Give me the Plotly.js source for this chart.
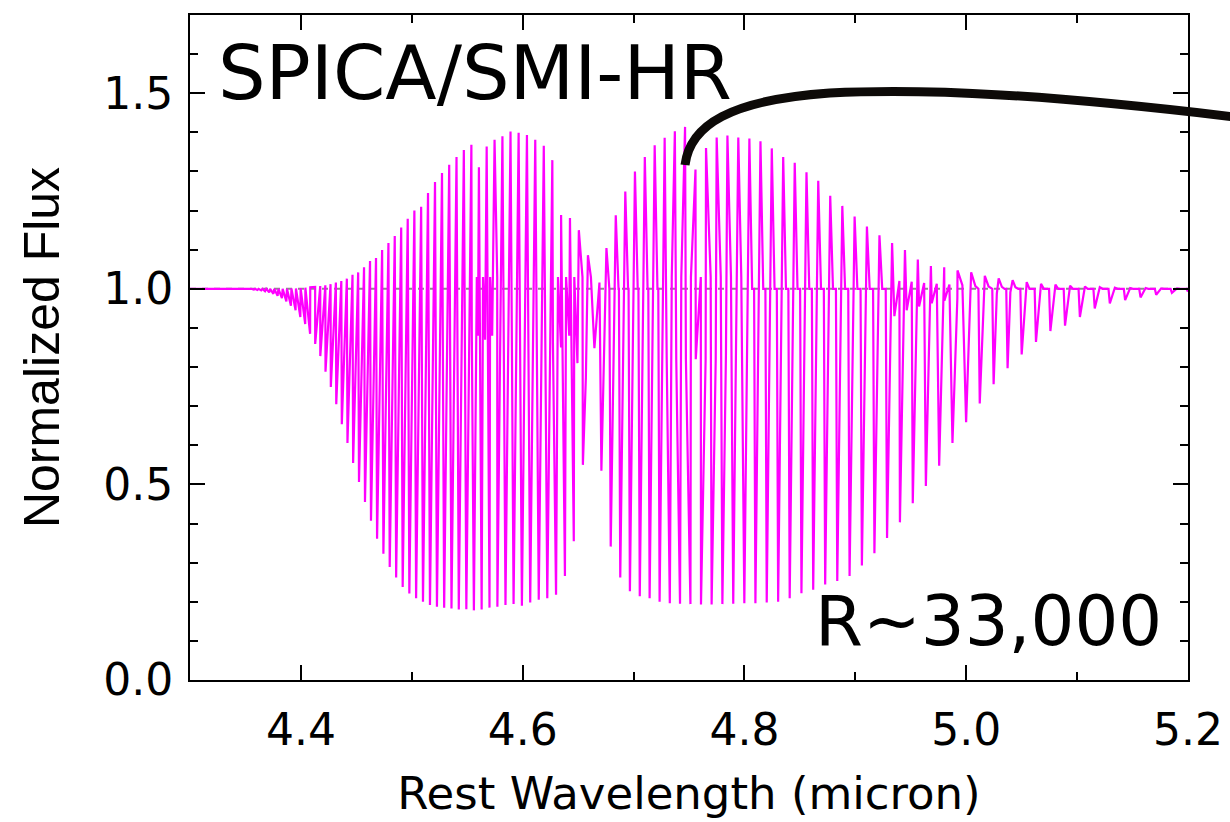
<!DOCTYPE html>
<html><head><meta charset="utf-8">
<script src="https://cdn.plot.ly/plotly-3.0.1.min.js"></script>
<style>html,body{margin:0;padding:0;background:#fff}#chart{width:1230px;height:822px}</style>
</head><body><div id="chart"></div>
<script>
// CO v=1-0 R-branch lines (R(0)...): rest wavelength (micron), emission peak, absorption minimum
const rWave = [4.6575,4.6493,4.6413,4.6333,4.6254,4.6177,4.6100,4.6025,4.5950,4.5877,4.5804,4.5733,4.5662,4.5592,4.5524,4.5456,4.5390,4.5324,4.5259,4.5196,4.5133,4.5071,4.5010,4.4950,4.4891,4.4833,4.4776,4.4719,4.4664,4.4610,4.4556,4.4503,4.4452,4.4401,4.4351,4.4302,4.4254,4.4207,4.4161,4.4115,4.4071,4.4027,4.3984,4.3942,4.3901,4.3861,4.3822,4.3784,4.3746,4.3709,4.3674,4.3639,4.3605,4.3572,4.3540];
const rPeak = [1.086,1.150,1.181,1.189,1.329,1.366,1.381,1.393,1.399,1.402,1.390,1.381,1.364,1.311,1.368,1.355,1.337,1.317,1.296,1.273,1.245,1.210,1.200,1.179,1.157,1.135,1.117,1.099,1.079,1.071,1.055,1.042,1.036,1.026,1.020,1.016,1.012,1.009,1.007,1.005,1.004,1.003,1.002,1.001,1.001,1.0,1.0,1.0,1.0,1.0,1.0,1.0,1.0,1.0,1.0];
const rDip = [0.550,0.355,0.266,0.218,0.209,0.205,0.198,0.190,0.194,0.192,0.187,0.185,0.180,0.178,0.181,0.180,0.183,0.185,0.187,0.192,0.200,0.209,0.221,0.238,0.262,0.289,0.323,0.361,0.407,0.455,0.506,0.555,0.606,0.654,0.705,0.749,0.788,0.828,0.859,0.885,0.910,0.928,0.945,0.957,0.968,0.976,0.982,0.987,0.991,0.994,0.996,0.997,0.998,0.999,0.999];

// CO v=1-0 P-branch lines (P(1)...)
const pWave = [4.6742,4.6826,4.6912,4.6999,4.7088,4.7177,4.7267,4.7359,4.7451,4.7545,4.7640,4.7736,4.7833,4.7931,4.8031,4.8131,4.8233,4.8336,4.8440,4.8546,4.8652,4.8760,4.8869,4.8980,4.9091,4.9204,4.9318,4.9434,4.9550,4.9668,4.9788,4.9908,5.0031,5.0154,5.0279,5.0405,5.0532,5.0661,5.0791,5.0923,5.1057,5.1191,5.1327,5.1465,5.1604,5.1745,5.1887,5.2031];
const pPeak = [1.104,1.188,1.249,1.300,1.337,1.367,1.386,1.403,1.414,1.305,1.360,1.387,1.392,1.387,1.384,1.377,1.359,1.337,1.322,1.298,1.276,1.238,1.212,1.185,1.159,1.137,1.117,1.099,1.075,1.058,1.055,1.047,1.042,1.033,1.027,1.022,1.017,1.013,1.011,1.008,1.006,1.004,1.003,1.002,1.002,1.001,1.001,1.001];
const pDip = [0.535,0.341,0.262,0.227,0.214,0.209,0.200,0.196,0.195,0.194,0.193,0.193,0.194,0.195,0.196,0.196,0.198,0.200,0.209,0.222,0.231,0.244,0.253,0.266,0.293,0.324,0.363,0.403,0.452,0.496,0.548,0.606,0.659,0.707,0.756,0.797,0.832,0.864,0.892,0.906,0.928,0.950,0.963,0.971,0.978,0.985,0.990,0.993];

// weaker v=2-1 lines seen between the main lines
const hotWave = [4.5573,4.5629,4.5693,4.5757,4.6305,4.6378,4.6452,4.6526,4.6602,4.6679,4.7331,4.7417,4.7504,4.7593,4.7682,4.7773,4.7865,4.7958,4.9384,4.9495,4.9607,4.9721,4.9835,4.9952,5.0069,5.0188,5.0308,5.0430];
const hotPeak = [1.03,1.03,1.03,1.03,1.03,1.03,1.03,1.03,1.03,1.016,1.03,1.03,1.03,1.03,1.03,1.03,1.03,1.03,1.020,1.018,1.015,1.013,1.011,1.009,1.007,1.006,1.005,1.004];
const hotDip = [0.90,0.88,0.87,0.88,0.86,0.85,0.88,0.81,0.773,0.848,0.82,0.82,0.82,0.82,0.82,0.82,0.83,0.83,0.930,0.945,0.955,0.963,0.970,0.976,0.981,0.985,0.988,0.991];

const continuum = 1.0;
const xRange = [4.3, 5.2];
const yRange = [0, 1.7];
const xTickVals = [4.4, 4.6, 4.8, 5.0, 5.2];
const yTickVals = [0.0, 0.5, 1.0, 1.5];

// profile offsets (micron): absorption on the blue side, emission on the red side
const DIP_OFF = 0.0032, PEAK_OFF = 0.00135, W_IN = 0.0012, W_OUT = 0.0025;

const lines = [];
function addLines(w, p, d) { for (let i = 0; i < w.length; i++) lines.push({c: w[i], peak: p[i], dip: d[i]}); }
addLines(rWave, rPeak, rDip);
addLines(pWave, pPeak, pDip);
addLines(hotWave, hotPeak, hotDip);
lines.sort((a, b) => a.c - b.c);
const spans = lines.map(l => [l.c - DIP_OFF - W_IN, l.c + PEAK_OFF + W_OUT]);
const verts = [{x: xRange[0], y: continuum}];
lines.forEach((l, i) => {
  const inOther = x => spans.some((s, j) => j !== i && x > s[0] && x < s[1]);
  if (!inOther(spans[i][0])) verts.push({x: spans[i][0], y: continuum});
  verts.push({x: l.c - DIP_OFF, y: l.dip});
  verts.push({x: l.c + PEAK_OFF, y: l.peak});
  if (!inOther(spans[i][1])) verts.push({x: spans[i][1], y: continuum});
});
verts.push({x: xRange[1], y: continuum});
verts.sort((u, v) => u.x - v.x);

const FONT = 'DejaVu Sans, sans-serif';
const traces = [
  {x: xRange, y: [continuum, continuum], mode: 'lines', line: {color: '#8c8c8c', width: 2, dash: '6px,6px'}, hoverinfo: 'skip', showlegend: false},
  {x: verts.map(v => v.x), y: verts.map(v => v.y), mode: 'lines', line: {color: '#ff00ff', width: 2.2}, showlegend: false, name: 'Normalized Flux'}
];

const axisCommon = {
  ticks: 'inside', ticklen: 15, tickwidth: 2, tickcolor: '#000',
  showline: true, linewidth: 2, linecolor: '#000', mirror: 'ticks',
  showgrid: false, zeroline: false,
  tickfont: {family: FONT, size: 44, color: '#000'}
};

const layout = {
  width: 1230, height: 822,
  margin: {l: 190, r: 42, t: 15, b: 142},
  paper_bgcolor: '#fff', plot_bgcolor: '#fff',
  showlegend: false,
  xaxis: Object.assign({}, axisCommon, {
    range: xRange, tickmode: 'array', tickvals: xTickVals, ticktext: xTickVals.map(v => v.toFixed(1)),
    minor: {dtick: 0.1, tick0: 4.3, ticks: 'inside', ticklen: 8, tickwidth: 2, tickcolor: '#000', showgrid: false},
    ticklabelstandoff: 10,
    title: {text: 'Rest Wavelength (micron)', font: {family: FONT, size: 45, color: '#000'}, standoff: 24}
  }),
  yaxis: Object.assign({}, axisCommon, {
    range: yRange, tickmode: 'array', tickvals: yTickVals, ticktext: yTickVals.map(v => v.toFixed(1)),
    minor: {dtick: 0.1, tick0: 0, ticks: 'inside', ticklen: 8, tickwidth: 2, tickcolor: '#000', showgrid: false},
    ticklabelstandoff: 6,
    title: {text: 'Normalized Flux', font: {family: 'Liberation Sans, sans-serif', size: 50, color: '#000'}, standoff: 28}
  }),
  annotations: [
    {text: 'SPICA/SMI-HR', xref: 'paper', yref: 'paper', x: 0.026, y: 0.913, xanchor: 'left', yanchor: 'middle', showarrow: false, font: {family: FONT, size: 75, color: '#000'}},
    {text: 'R~33,000', xref: 'paper', yref: 'paper', x: 0.9755, y: 0.089, xanchor: 'right', yanchor: 'middle', showarrow: false, font: {family: FONT, size: 69, color: '#000'}}
  ],
  shapes: [
    {type: 'path', xref: 'paper', yref: 'paper', layer: 'above',
     path: 'M 0.496 0.7744 C 0.501 0.8346 0.541 0.8722 0.641 0.8827 C 0.7415 0.8902 0.8617 0.8797 1.0471 0.8466',
     line: {color: '#0d0a08', width: 9}}
  ]
};

Plotly.newPlot('chart', traces, layout, {displayModeBar: false, staticPlot: true});
</script>
</body></html>
